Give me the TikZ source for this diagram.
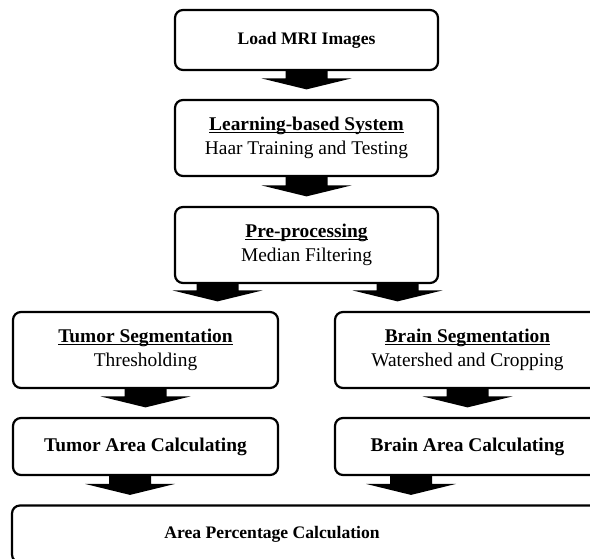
\documentclass[tikz,border=0pt]{standalone}
\usepackage{fontspec}
\setmainfont{Liberation Serif}
\usetikzlibrary{calc}

\newcommand{\undl}[1]{\setbox0\hbox{#1}\rlap{\rule[-2.6pt]{\wd0}{1.3pt}}\box0}

\begin{document}
\begin{tikzpicture}[x=1pt, y=-1pt,
  box/.style={draw, line width=2.2pt, rounded corners=8pt, align=center, inner sep=0pt,
    font=\fontsize{19.4}{24}\selectfont},
  bigbox/.style={box, minimum width=263pt, minimum height=76pt},
  sidebox/.style={box, minimum width=265pt, minimum height=76pt},
  lowbox/.style={box, minimum width=265pt, minimum height=57pt, font=\fontsize{19.4}{24}\selectfont\bfseries}]
\useasboundingbox (0,0) rectangle (590,559);
% main column
\node[box, minimum width=263pt, minimum height=60pt, font=\fontsize{17.6}{21}\selectfont\bfseries] (b1) at (306.5,40) {Load MRI Images};
\node[bigbox] (b2) at (306.5,138) {\textbf{\undl{Learning-based System}}\\Haar Training and Testing};
\node[bigbox] (b3) at (306.5,245) {\textbf{\undl{Pre-processing}}\\Median Filtering};
% two branches
\node[sidebox] (b4) at (145.5,350) {\textbf{\undl{Tumor Segmentation}}\\Thresholding};
\node[sidebox] (b5) at (467.5,350) {\textbf{\undl{Brain Segmentation}}\\Watershed and Cropping};
\node[lowbox] (b6) at (145.5,446.5) {Tumor Area Calculating};
\node[lowbox] (b7) at (467.5,446.5) {Brain Area Calculating};
\node[box, minimum width=588pt, minimum height=57pt, font=\fontsize{17.6}{21}\selectfont\bfseries] (b8) at (306,534) {\hspace*{-68pt}\raisebox{-2pt}{Area Percentage Calculation}};
% arrow start points
\coordinate (a3l) at ($(b3.south)+(-89,0)$);
\coordinate (a3r) at ($(b3.south)+(91,0)$);
\coordinate (a6) at ($(b6.south)+(-15.5,0)$);
\coordinate (a7) at ($(b7.south)+(-56.5,0)$);
% block arrows
\foreach \s/\t in {b1.south/b2.north, b2.south/b3.north, a3l/b4.north, a3r/b5.north,
                   b4.south/b6.north, b5.south/b7.north, a6/b8.north, a7/b8.north}
  \fill let \p1=(\s), \p2=(\t) in
    ({\x1-21pt},\y1) -- ({\x1-21pt},{\y2+20.5pt}) -- ({\x1-45pt},{\y2+20.5pt})
    -- (\x1,{\y2+9.5pt}) -- ({\x1+45pt},{\y2+20.5pt}) -- ({\x1+21pt},{\y2+20.5pt})
    -- ({\x1+21pt},\y1) -- cycle;
\end{tikzpicture}
\end{document}
